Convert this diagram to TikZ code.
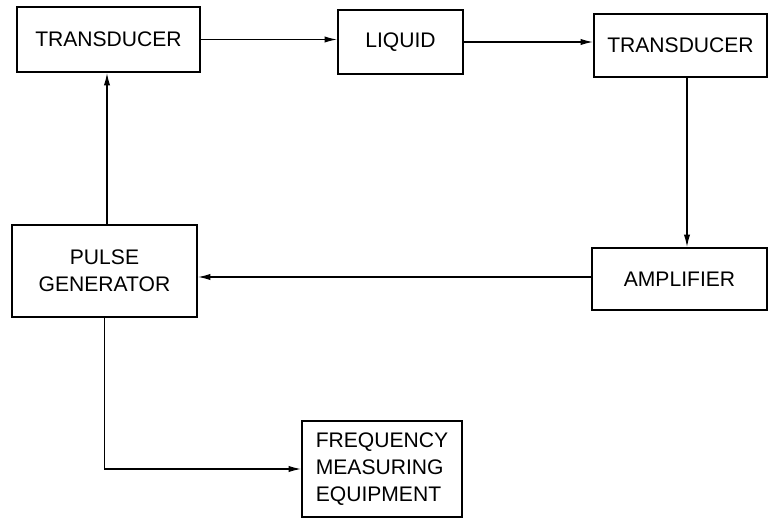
\documentclass[tikz,border=0pt]{standalone}
\usepackage{fontspec}
\setmainfont{Liberation Sans}
\usepackage{tikz}
\usetikzlibrary{arrows.meta,positioning}

\begin{document}
\begin{tikzpicture}[>={Latex[length=7pt,width=3.6pt]},
    box/.style={draw, line width=1.3pt, inner sep=0pt, align=center,
        font=\fontsize{12}{15.5}\selectfont},
    flow/.style={->, line width=0.6pt}]
    \useasboundingbox (0,0) rectangle (15.36,10.38);

    % Blocks
    \node[box, minimum width=3.66cm, minimum height=1.30cm] (trans1) at (2.17,9.59) {TRANSDUCER};
    \node[box, minimum width=2.50cm, minimum height=1.28cm] (liquid) at (8.01,9.54) {LIQUID};
    \node[box, minimum width=3.46cm, minimum height=1.26cm] (trans2) at (13.61,9.47) {TRANSDUCER};
    \node[box, minimum width=3.50cm, minimum height=1.24cm] (amp) at (13.59,4.80) {AMPLIFIER};
    \node[box, minimum width=3.70cm, minimum height=1.84cm] (pulse) at (2.09,4.96) {PULSE\\GENERATOR};
    \node[box, minimum width=3.20cm, minimum height=1.92cm, align=left] (freq) at (7.64,1.00)
        {FREQUENCY\\MEASURING\\EQUIPMENT};

    % Signal path
    \draw[flow] (trans1.east) -- (trans1.east -| liquid.west);
    \draw[flow] (liquid.east) -- (liquid.east -| trans2.west);
    \draw[flow] ([xshift=0.13cm]trans2.south) -- ([xshift=0.13cm]trans2.south |- amp.north);
    \draw[flow] ([yshift=0.04cm]amp.west) -- ([yshift=0.04cm]amp.west -| pulse.east);
    \draw[flow] ([xshift=0.05cm]pulse.north) -- ([xshift=0.05cm]pulse.north |- trans1.south);

    % Measurement branch
    \draw[flow] (pulse.south) |- (freq.west);
\end{tikzpicture}
\end{document}
